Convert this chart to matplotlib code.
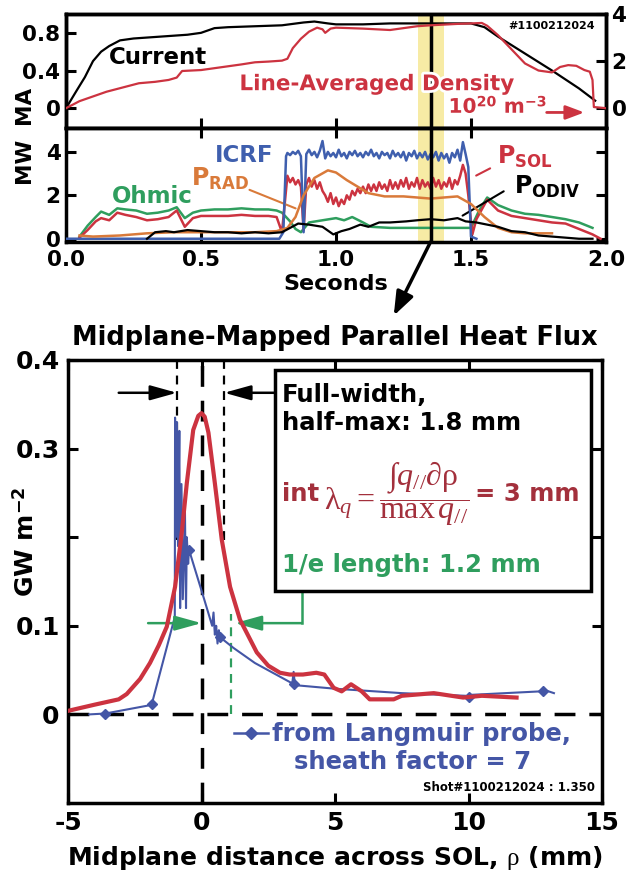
import numpy as np
import matplotlib
matplotlib.use('Agg')
import matplotlib.pyplot as plt
import matplotlib.patheffects as pe
from matplotlib.patches import Rectangle, ConnectionPatch
from matplotlib.lines import Line2D
from matplotlib.offsetbox import TextArea, HPacker, AnnotationBbox

plt.rcParams['font.family'] = 'DejaVu Sans'
plt.rcParams['font.weight'] = 'bold'
plt.rcParams['mathtext.fontset'] = 'custom'
plt.rcParams['mathtext.rm'] = 'Liberation Serif:weight=normal'
plt.rcParams['mathtext.it'] = 'Liberation Serif:style=italic:weight=normal'
plt.rcParams['mathtext.bf'] = 'DejaVu Sans:weight=bold'

RED = '#cc3340'
DARKRED = '#a3303c'
BLUE = '#3f5fae'
GREEN = '#2f9e5e'
ORANGE = '#d97a3a'
LPBLUE = '#4456a6'
YELLOW = '#f7eba5'

# ---- top panel: plasma current (MA) and line-averaged density (1e20 m^-3)
cur_t = [0.0, 0.04, 0.07, 0.1, 0.13, 0.16, 0.2, 0.25, 0.3, 0.35, 0.4, 0.45, 0.5, 0.55,
         0.6, 0.7, 0.8, 0.88, 0.92, 0.97, 1.0, 1.1, 1.2, 1.3, 1.4, 1.5, 1.55, 1.6, 1.7,
         1.8, 1.9, 1.96]
cur_v = [0.0, 0.19, 0.33, 0.5, 0.6, 0.66, 0.72, 0.74, 0.75, 0.76, 0.77, 0.78, 0.8, 0.85,
         0.86, 0.87, 0.88, 0.91, 0.92, 0.9, 0.89, 0.89, 0.9, 0.9, 0.9, 0.9, 0.86, 0.76,
         0.58, 0.4, 0.21, 0.08]

den_t = [0.0, 0.05, 0.1, 0.15, 0.2, 0.27, 0.33, 0.38, 0.41, 0.43, 0.5, 0.55, 0.6, 0.65,
         0.7, 0.75, 0.8, 0.82, 0.84, 0.87, 0.9, 0.93, 0.95, 0.96, 0.98, 1.0, 1.05, 1.1,
         1.15, 1.2, 1.25, 1.3, 1.35, 1.4, 1.45, 1.5, 1.54, 1.56, 1.6, 1.65, 1.7, 1.75,
         1.8, 1.83, 1.86, 1.89, 1.92, 1.94, 1.95, 1.955, 2.0]
den_v = [0.0, 0.3, 0.5, 0.7, 0.85, 1.06, 1.12, 1.2, 1.3, 1.58, 1.62, 1.7, 1.78, 1.86,
         1.95, 1.98, 2.02, 2.1, 2.55, 2.95, 3.25, 3.42, 3.35, 3.2, 3.38, 3.42, 3.4, 3.38,
         3.35, 3.32, 3.4, 3.48, 3.52, 3.55, 3.58, 3.6, 3.62, 3.5, 3.1, 2.5, 1.9, 1.6,
         1.52, 1.75, 1.83, 1.8, 1.62, 1.55, 1.2, 0.05, 0.0]

# ---- middle panel: powers (MW)
ohm_t = [0.05, 0.08, 0.11, 0.13, 0.16, 0.19, 0.22, 0.26, 0.3, 0.34, 0.38, 0.41, 0.44,
         0.47, 0.5, 0.55, 0.6, 0.65, 0.7, 0.75, 0.78, 0.8, 0.83, 0.85, 0.87, 0.9, 0.95,
         1.0, 1.03, 1.06, 1.1, 1.13, 1.2, 1.3, 1.4, 1.5, 1.53, 1.56, 1.6, 1.65, 1.7,
         1.75, 1.8, 1.85, 1.9, 1.95]
ohm_v = [0.1, 0.6, 1.0, 1.25, 1.1, 1.4, 1.35, 1.3, 1.15, 1.2, 1.3, 1.45, 0.95, 1.2, 1.3,
         1.35, 1.35, 1.4, 1.35, 1.35, 1.3, 1.2, 0.8, 0.45, 0.3, 0.75, 0.85, 0.95, 0.85,
         1.0, 0.75, 0.55, 0.5, 0.5, 0.5, 0.5, 1.3, 1.9, 1.55, 1.3, 1.15, 1.1, 1.0, 0.9,
         0.75, 0.5]

rf_t = np.round(np.arange(0.82, 1.485, 0.01), 3)
icrf_rf = [3.95, 3.85, 4.0, 3.9, 4.05, 3.8, 0.3, 3.9, 4.1, 3.85, 4.0, 3.75, 4.05, 4.5,
           3.7, 4.0, 3.8, 3.95, 3.75, 4.1, 3.8, 3.95, 3.7, 4.0, 3.85, 4.05, 3.8, 3.95,
           3.75, 4.0, 3.85, 4.1, 3.8, 3.95, 3.7, 4.0, 3.85, 3.95, 3.7, 4.05, 3.8, 3.95,
           3.75, 4.0, 3.6, 3.95, 3.8, 4.05, 3.7, 3.95, 3.75, 4.0, 3.65, 3.9, 3.75, 4.0,
           3.6, 3.95, 3.7, 3.9, 3.5, 3.95, 3.75, 4.1, 3.6, 4.45, 3.9]
psol_rf = [2.9, 2.6, 2.8, 2.5, 2.7, 2.4, 0.4, 2.5, 2.8, 2.4, 2.7, 2.3, 2.6, 2.2, 2.0, 1.7,
           2.1, 1.6, 1.9, 1.5, 1.8, 1.6, 2.0, 1.8, 2.2, 2.0, 2.3, 2.1, 2.4, 2.1, 2.5, 2.2,
           2.5, 2.2, 2.6, 2.3, 2.5, 2.2, 2.7, 2.3, 2.6, 2.3, 2.7, 2.4, 2.8, 2.3, 2.6, 2.4,
           2.8, 2.3, 2.7, 2.4, 2.6, 2.3, 2.8, 2.4, 2.7, 2.3, 2.6, 2.4, 2.8, 2.3, 2.7, 2.5,
           2.9, 3.4, 3.0]
icrf_t = [0.0, 0.79, 0.805, 0.815] + list(rf_t) + [1.49, 1.5, 1.52]
icrf_v = [0.0, 0.0, 0.3, 3.8] + icrf_rf + [3.3, 0.1, 0.0]

psol_pre_t = [0.05, 0.08, 0.11, 0.13, 0.16, 0.19, 0.22, 0.26, 0.3, 0.34, 0.38, 0.41,
              0.44, 0.47, 0.5, 0.55, 0.6, 0.65, 0.7, 0.75, 0.78, 0.8, 0.81]
psol_pre_v = [0.05, 0.4, 0.8, 0.95, 0.85, 1.2, 1.1, 1.0, 0.85, 0.9, 1.0, 1.3, 0.55,
              0.95, 1.05, 1.05, 1.05, 1.1, 1.05, 1.05, 1.0, 0.3, 1.6]
psol_post_t = [1.49, 1.505, 1.52, 1.56, 1.6, 1.65, 1.7, 1.75, 1.8, 1.85, 1.9, 1.95, 1.98]
psol_post_v = [2.0, 0.2, 0.9, 1.8, 1.3, 1.05, 0.95, 0.85, 0.75, 0.7, 0.45, 0.2, 0.0]
psol_t = psol_pre_t + list(rf_t) + psol_post_t
psol_v = psol_pre_v + psol_rf + psol_post_v

prad_t = [0.05, 0.1, 0.2, 0.3, 0.4, 0.5, 0.6, 0.7, 0.78, 0.82, 0.85, 0.88, 0.92, 0.97,
          1.0, 1.04, 1.08, 1.12, 1.18, 1.25, 1.3, 1.35, 1.4, 1.45, 1.5, 1.55, 1.6, 1.65,
          1.7, 1.8]
prad_v = [0.15, 0.1, 0.15, 0.25, 0.3, 0.3, 0.3, 0.3, 0.35, 0.5, 1.0, 2.0, 2.8, 3.15,
          3.05, 2.7, 2.4, 2.1, 1.95, 1.95, 1.9, 1.85, 1.9, 1.95, 1.6, 1.0, 0.5, 0.3, 0.25,
          0.25]

podiv_t = [0.3, 0.33, 0.37, 0.4, 0.45, 0.5, 0.55, 0.6, 0.65, 0.7, 0.75, 0.8, 0.83, 0.86,
           0.9, 0.95, 0.99, 1.02, 1.05, 1.09, 1.12, 1.16, 1.2, 1.26, 1.3, 1.35, 1.4,
           1.45, 1.48, 1.52, 1.56, 1.6, 1.65, 1.7, 1.75, 1.8, 1.85, 1.9, 1.95]
podiv_v = [0.0, 0.3, 0.35, 0.3, 0.4, 0.35, 0.3, 0.3, 0.25, 0.3, 0.25, 0.3, 0.5, 0.7, 0.65,
           0.55, 0.2, 0.35, 0.45, 0.65, 0.55, 0.75, 0.75, 0.8, 0.85, 0.9, 0.85, 0.95, 0.8,
           0.75, 0.65, 0.55, 0.35, 0.3, 0.15, 0.1, 0.05, 0.0, 0.0]

t_slice = 1.35
band = [1.305, 1.40]

# ---- bottom panel: midplane-mapped parallel heat flux (GW m^-2)
fit_x = [-5, -4.0, -3.1, -2.8, -2.3, -1.93, -1.6, -1.3, -0.99, -0.74, -0.55, -0.31,
         -0.12, 0.0, 0.12, 0.26, 0.5, 0.76, 1.07, 1.44, 2.07, 2.5, 2.94, 3.3, 3.8, 4.3,
         4.6, 4.95, 5.25, 5.6, 6.0, 6.3, 7.2, 7.5, 8.7, 9.8, 10.5, 11.8]
fit_y = [0.004, 0.011, 0.017, 0.023, 0.04, 0.058, 0.078, 0.099, 0.144, 0.205, 0.261,
         0.321, 0.337, 0.340, 0.336, 0.318, 0.261, 0.197, 0.144, 0.107, 0.07, 0.055,
         0.047, 0.045, 0.045, 0.047, 0.045, 0.03, 0.026, 0.034, 0.026, 0.017, 0.017,
         0.021, 0.024, 0.019, 0.021, 0.019]

lp_x = [-4.2, -3.6, -2.0, -1.85, -1.0, -0.99, -0.97, -0.92, -0.88, -0.83, -0.8, -0.75,
        -0.7, -0.62, -0.58, -0.55, -0.5, -0.47, 0.1, 0.4, 0.45, 0.5, 0.55, 0.6, 0.65,
        0.7, 1.2, 2.0, 3.4, 3.45, 3.5, 5.0, 7.5, 9.9, 10.0, 10.05, 12.7, 12.8, 13.2]
lp_y = [0.0, 0.001, 0.01, 0.013, 0.11, 0.335, 0.2, 0.33, 0.19, 0.32, 0.12, 0.26, 0.13,
        0.23, 0.12, 0.2, 0.17, 0.186, 0.13, 0.1, 0.115, 0.09, 0.1, 0.08, 0.095, 0.087,
        0.075, 0.058, 0.035, 0.048, 0.033, 0.029, 0.024, 0.021, 0.016, 0.022, 0.026,
        0.028, 0.024]
lp_mx = [-3.6, -1.85, -0.47, 0.68, 3.45, 10.0, 12.8]
lp_my = [0.001, 0.012, 0.186, 0.087, 0.034, 0.02, 0.026]

fwhm_edges = [-0.92, 0.85]
fwhm_bottom = 0.197
efold_x = 1.12
efold_top = 0.113


def style(ax, size, pad=4):
    for s in ax.spines.values():
        s.set_linewidth(2.5)
    ax.tick_params(direction='in', length=7, width=2.2, labelsize=size, pad=pad)


fig = plt.figure(figsize=(6.29, 8.71), dpi=100)
ax1 = fig.add_axes([66/629, 1-128/871, 540/629, 114/871])
ax2 = fig.add_axes([66/629, 1-242/871, 540/629, 114/871])
ax3 = fig.add_axes([68/629, 1-803/871, 534/629, 443/871])

# top
ax1.axvspan(band[0], band[1], color=YELLOW, zorder=0, lw=0)
ax1.axvline(t_slice, color='k', lw=2.5, zorder=1)
ax1.plot(cur_t, cur_v, color='k', lw=1.6, zorder=3)
ax1.set_xlim(0, 2)
ax1.set_ylim(-0.21, 1.0)
ax1.set_yticks([0, 0.4, 0.8])
ax1.set_yticklabels(['0', '0.4', '0.8'])
ax1.set_xticks([0.5, 1.0, 1.5])
ax1.tick_params(axis='x', labelbottom=False)
style(ax1, 15.5)
ax1.set_ylabel('MA', fontsize=15.5, fontweight='bold')
ax1.yaxis.set_label_coords(-0.06, 0.2)

ax1r = ax1.twinx()
ax1r.plot(den_t, den_v, color=RED, lw=1.6, zorder=3)
ax1r.set_ylim(-0.84, 4.0)
ax1r.set_yticks([0, 2, 4])
style(ax1r, 15.5)

ax1.text(0.16, 0.54, 'Current', fontsize=16.5, fontweight='bold', color='k', va='center')
halo = [pe.withStroke(linewidth=4, foreground='white')]
ax1.text(1.15, 0.255, 'Line-Averaged Density', fontsize=15.5, fontweight='bold',
         color=RED, ha='center', va='center', path_effects=halo, zorder=5)
ax1.text(1.6, 0.02, r'10$^{\mathbf{20}}$ m$^{\mathbf{-3}}$', fontsize=14.5, fontweight='bold',
         color=RED, ha='center', va='center', path_effects=halo, zorder=5)
ax1.annotate('', xy=(1.93, -0.045), xytext=(1.77, -0.045),
             arrowprops=dict(arrowstyle='-|>,head_length=0.8,head_width=0.3', color=RED,
                             lw=2, mutation_scale=14))
ax1.text(1.96, 0.87, '#1100212024', fontsize=8, fontweight='bold', ha='right', va='center')

# middle
ax2.axvspan(band[0], band[1], color=YELLOW, zorder=0, lw=0)
ax2.axvline(t_slice, color='k', lw=2.5, zorder=6)
ax2.plot(ohm_t, ohm_v, color=GREEN, lw=1.8, zorder=2)
ax2.plot(psol_t, psol_v, color=RED, lw=1.8, zorder=3)
ax2.plot(icrf_t, icrf_v, color=BLUE, lw=1.8, zorder=4)
ax2.plot(prad_t, prad_v, color=ORANGE, lw=1.8, zorder=5)
ax2.plot(podiv_t, podiv_v, color='k', lw=1.6, zorder=5)
ax2.set_xlim(0, 2)
ax2.set_ylim(-0.15, 5.1)
ax2.set_yticks([0, 2, 4])
ax2.set_xticks([0, 0.5, 1.0, 1.5, 2.0])
ax2.set_xticklabels(['0.0', '0.5', '1.0', '1.5', '2.0'])
ax2.tick_params(top=True, right=True)
style(ax2, 15.5)
ax2.tick_params(axis='x', pad=6)
ax2.set_ylabel('MW', fontsize=15.5, fontweight='bold')
ax2.yaxis.set_label_coords(-0.06, 0.72)
ax2.set_xlabel('Seconds', fontsize=16, fontweight='bold', labelpad=3)

ax2.text(0.32, 1.95, 'Ohmic', fontsize=16.5, fontweight='bold', color=GREEN,
         ha='center', va='center')
ax2.text(0.66, 3.85, 'ICRF', fontsize=16.5, fontweight='bold', color=BLUE,
         ha='center', va='center')
ax2.text(0.57, 2.75, r'$\mathbf{P_{RAD}}$', fontsize=17, color=ORANGE,
         ha='center', va='center')
ax2.text(1.70, 3.75, r'$\mathbf{P_{SOL}}$', fontsize=17, color=RED,
         ha='center', va='center')
ax2.text(1.78, 2.4, r'$\mathbf{P_{ODIV}}$', fontsize=17, color='k',
         ha='center', va='center')
ax2.annotate('', xy=(0.86, 1.35), xytext=(0.67, 2.3),
             arrowprops=dict(arrowstyle='-', color=ORANGE, lw=1.5))
ax2.annotate('', xy=(1.51, 2.85), xytext=(1.58, 3.3),
             arrowprops=dict(arrowstyle='-', color=RED, lw=1.5))
ax2.annotate('', xy=(1.46, 1.0), xytext=(1.63, 2.25),
             arrowprops=dict(arrowstyle='-', color='k', lw=1.5))

# bottom
ax3.axvline(0, color='k', lw=2.5, dashes=(6, 4), zorder=1)
ax3.axhline(0, color='k', lw=2.5, dashes=(6, 4), zorder=1)
ax3.vlines(fwhm_edges, fwhm_bottom, 0.4, color='k', lw=1.6, linestyles=(0, (4, 3)), zorder=1)
ax3.vlines(efold_x, 0, efold_top, color=GREEN, lw=1.6, linestyles=(0, (4, 3)), zorder=1)
ax3.plot(fit_x, fit_y, color=RED, lw=3, zorder=4)
ax3.plot(lp_x, lp_y, color=LPBLUE, lw=1.5, zorder=3)
ax3.plot(lp_mx, lp_my, 'D', color=LPBLUE, ms=5, zorder=3)
ax3.set_xlim(-5, 15)
ax3.set_ylim(-0.1, 0.4)
ax3.set_xticks([-5, 0, 5, 10, 15])
ax3.set_xticklabels(['-5', '0', '5', '10', '15'])
ax3.set_yticks([0, 0.1, 0.2, 0.3, 0.4])
ax3.set_yticklabels(['0', '0.1', '', '0.3', '0.4'])
ax3.tick_params(top=True, right=True)
style(ax3, 18, pad=6)
ax3.set_title('Midplane-Mapped Parallel Heat Flux', fontsize=18.5, fontweight='bold', pad=11)
ax3.set_xlabel(r'Midplane distance across SOL, $\mathrm{\rho}$ (mm)', fontsize=18,
               fontweight='bold', labelpad=6)
ax3.set_ylabel(r'GW m$^{\mathbf{-2}}$', fontsize=18, fontweight='bold')
ax3.yaxis.set_label_coords(-0.055, 0.59)

box = Rectangle((2.76, 0.139), 14.6 - 2.76, 0.389 - 0.139, fc='white', ec='k',
                lw=2.5, zorder=5)
ax3.add_patch(box)
ax3.text(3.0, 0.361, 'Full-width,', fontsize=17.5, fontweight='bold', va='center', zorder=6)
ax3.text(3.0, 0.329, 'half-max: 1.8 mm', fontsize=17.5, fontweight='bold', va='center',
         zorder=6)
bold_red = dict(fontsize=17.5, fontweight='bold', color=DARKRED)
formula = HPacker(children=[
    TextArea('int', textprops=bold_red),
    TextArea(r'$\mathrm{\lambda}_q=\dfrac{\int q_{//}\partial\mathrm{\rho}}{\mathrm{max}\,q_{//}}$',
             textprops=dict(fontsize=23, fontweight='normal', color=DARKRED)),
    TextArea('= 3 mm', textprops=bold_red)], align='center', pad=0, sep=4)
ab = AnnotationBbox(formula, (3.0, 0.249), xycoords='data', box_alignment=(0, 0.5),
                    frameon=False, zorder=6)
ax3.add_artist(ab)
ax3.text(3.0, 0.169, '1/e length: 1.2 mm', fontsize=17.5, fontweight='bold', color=GREEN,
         va='center', zorder=6)

black_arrow = dict(arrowstyle='-|>,head_length=0.9,head_width=0.25', color='k', lw=1.8,
                   mutation_scale=18, shrinkA=0, shrinkB=0)
green_arrow = dict(arrowstyle='-|>,head_length=0.9,head_width=0.25', color=GREEN, lw=1.8,
                   mutation_scale=18, shrinkA=0, shrinkB=0)
ax3.annotate('', xy=(fwhm_edges[0], 0.363), xytext=(-3.1, 0.363), arrowprops=black_arrow)
ax3.annotate('', xy=(fwhm_edges[1], 0.363), xytext=(2.76, 0.363), arrowprops=black_arrow)
ax3.annotate('', xy=(0.0, 0.103), xytext=(-2.0, 0.103), arrowprops=green_arrow)
ax3.annotate('', xy=(1.25, 0.103), xytext=(3.76, 0.103), arrowprops=green_arrow)
ax3.plot([3.76, 3.76], [0.103, 0.139], color=GREEN, lw=1.8, zorder=4)

handle = Line2D([], [], color=LPBLUE, lw=1.8, marker='D', ms=6)
leg = ax3.legend([handle], ['from Langmuir probe,'], loc='center left',
                 bbox_to_anchor=(0.31, 0.155), frameon=False, fontsize=17.5,
                 handlelength=1.4, handletextpad=0.2, borderpad=0, borderaxespad=0,
                 labelcolor=LPBLUE, numpoints=1)
ax3.text(7.9, -0.054, 'sheath factor = 7', fontsize=17.5, fontweight='bold', color=LPBLUE,
         ha='center', va='center')
ax3.text(14.75, -0.082, 'Shot#1100212024 : 1.350', fontsize=8.5, fontweight='bold',
         ha='right', va='center')

con = ConnectionPatch(xyA=(t_slice, -0.15), coordsA=ax2.transData,
                      xyB=(7.2, 0.45), coordsB=ax3.transData,
                      arrowstyle='-|>,head_length=0.8,head_width=0.3', lw=2.5,
                      mutation_scale=18, color='k')
fig.add_artist(con)

fig.savefig('out.png', dpi=100)
